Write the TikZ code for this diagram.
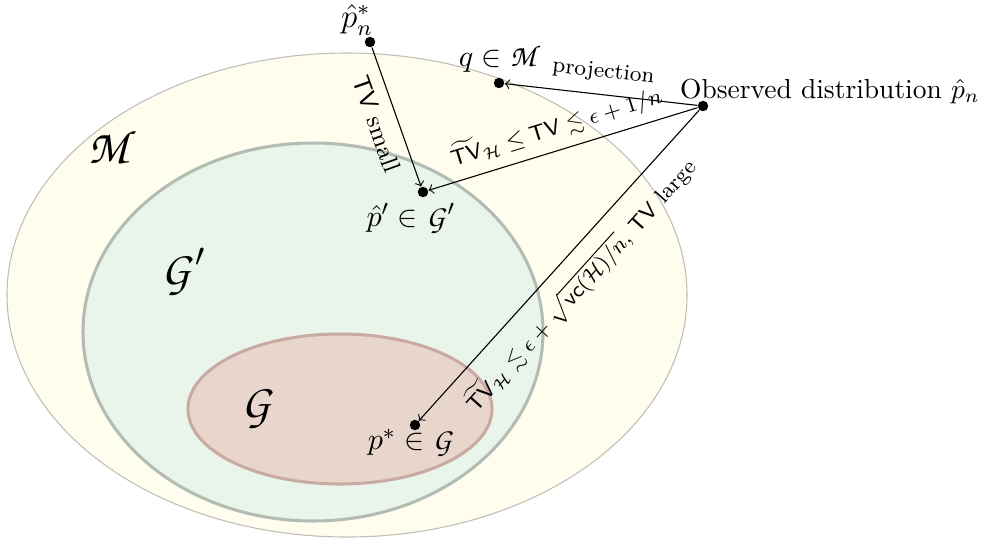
\documentclass[tikz,border=0pt]{standalone}
\usepackage{amsmath,amssymb}
\DeclareMathAlphabet{\mathpzc}{OT1}{pzc}{m}{it}
\definecolor{Mfill}{RGB}{255,253,238}
\definecolor{Mdraw}{RGB}{192,192,184}
\definecolor{Gpfill}{RGB}{233,244,235}
\definecolor{Gpdraw}{RGB}{178,188,178}
\definecolor{Gfill}{RGB}{232,214,205}
\definecolor{Gdraw}{RGB}{201,170,163}
\tikzset{
  pt/.style={circle, fill=black, inner sep=0pt, minimum size=3.8pt},
  arr/.style={->, >=to, line width=0.4pt},
  setlabel/.style={font=\LARGE},
  ptlabel/.style={font=\fontsize{11}{13}\selectfont},
}
\begin{document}
\begin{tikzpicture}[x=0.3636pt, y=-0.3636pt]
\useasboundingbox (0,0) rectangle (998,538);
% sets
\draw[Mdraw, fill=Mfill, line width=0.4pt] (347,295) ellipse [x radius=340, y radius=242];
\draw[Gpdraw, fill=Gpfill, line width=1.1pt] (313,332) ellipse [x radius=230, y radius=189];
\draw[Gdraw, fill=Gfill, line width=1.1pt] (340,409) ellipse [x radius=152, y radius=75];
\node[setlabel] (Mlab) at (113,147) {$\mathpzc{M}$};
\node[setlabel] (Gplab) at (184,272) {$\mathpzc{G}'$};
\node[setlabel] (Glab) at (258,409) {$\mathpzc{G}$};
% points
\node[pt] (pstar) at (370,42) {};
\node[pt] (q) at (499,83) {};
\node[pt] (obs) at (703,106) {};
\node[pt] (pp) at (423,192) {};
\node[pt] (ps) at (415,425) {};
% point labels
\node[font=\large] (pstarlab) at (357,20) {$\hat p_n^*$};
\node[ptlabel] (qlab) at (500,58) {$q \in \mathpzc{M}$};
\node (obslab) at (830,91) {Observed distribution $\hat p_n$};
\node[ptlabel] (pplab) at (411,219) {$\hat p' \in \mathpzc{G}'$};
\node[ptlabel] (pslab) at (411,443) {$p^* \in \mathpzc{G}$};
% connectors
\draw[arr] (obs) -- node[midway, sloped, above, font=\footnotesize, yshift=1pt] {projection} (q);
\draw[arr] (pstar) -- node[midway, sloped, below, font=\small, yshift=-1pt] {$\mathsf{TV}$ small} (pp);
\draw[arr] (obs) -- node[midway, sloped, above, font=\footnotesize] {$\widetilde{\mathsf{TV}}_{\mathcal H} \le \mathsf{TV} \lesssim \epsilon + 1/n$} (pp);
\draw[arr] (obs) -- node[midway, sloped, below, font=\footnotesize, yshift=-2pt] {$\widetilde{\mathsf{TV}}_{\mathcal H} \lesssim \epsilon + \sqrt{\mathsf{vc}(\mathcal H)/n}$, $\mathsf{TV}$ large} (ps);
\end{tikzpicture}
\end{document}
